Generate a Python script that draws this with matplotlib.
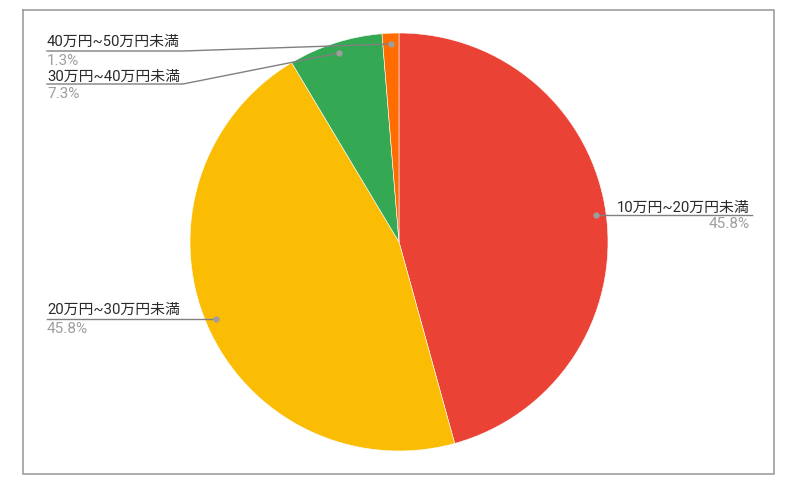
import matplotlib.pyplot as plt

plt.rcParams['font.family'] = ['Roboto', 'Noto Sans CJK JP', 'DejaVu Sans']

labels = ["10万円~20万円未満", "20万円~30万円未満", "30万円~40万円未満", "40万円~50万円未満"]
values = [45.8, 45.8, 7.3, 1.3]
pct_text = ["45.8%", "45.8%", "7.3%", "1.3%"]
colors = ["#EA4335", "#FBBC04", "#34A853", "#FF6D01"]

H = 487
fig = plt.figure(figsize=(7.98, 4.87), dpi=100)
ax = fig.add_axes([0, 0, 1, 1])

ax.pie(values, colors=colors, startangle=90, counterclock=False,
       center=(399, H - 242), radius=209, frame=True,
       wedgeprops=dict(edgecolor="white", linewidth=0.4))
ax.set_xlim(0, 798)
ax.set_ylim(0, H)
ax.set_aspect("auto")
ax.axis("off")

# chart border
ax.plot([23, 774, 774, 23, 23], [H - 10, H - 10, H - 474, H - 474, H - 10],
        color="#9e9e9e", lw=1.2)

# leader lines (pixel coords, y from top): dot, bend, end
leaders = [
    [(596, 215), (752, 215)],
    [(216, 319), (47, 319)],
    [(339, 53), (183, 84), (47, 84)],
    [(391, 44), (183, 51), (47, 51)],
]
# text anchor: x, baseline of name, baseline of percent, alignment
text_pos = [
    (750, 212, 228, "right"),
    (47, 314, 333, "left"),
    (47, 81, 98, "left"),
    (47, 46, 65, "left"),
]

for pts, (tx, yl, yp, ha), lab, pct in zip(leaders, text_pos, labels, pct_text):
    xs = [p[0] for p in pts]
    ys = [H - p[1] for p in pts]
    ax.plot(xs, ys, color="#808080", lw=1.0)
    ax.plot(xs[0], ys[0], "o", color="#9e9e9e", ms=3.5)
    ax.text(tx, H - yl, lab, ha=ha, va="baseline", fontsize=10.7, color="#2a2a2a")
    ax.text(tx, H - yp, pct, ha=ha, va="baseline", fontsize=11, color="#9e9e9e")

plt.savefig("out.png", dpi=100)
